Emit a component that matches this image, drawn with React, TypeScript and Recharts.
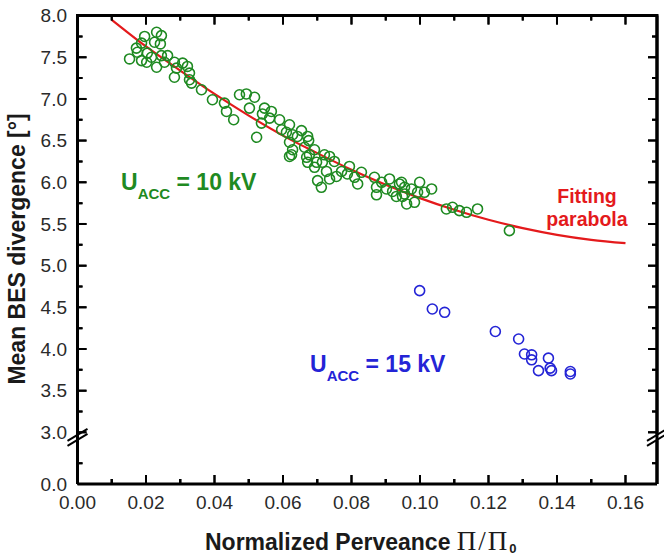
import React from 'react';
import { ComposedChart, Scatter, Line, XAxis, YAxis, ZAxis, ReferenceLine } from 'recharts';

// U_ACC = 10 kV measurements [normalized perveance, mean divergence in deg]
const acc10kV = [
  { x: 0.0152, y: 7.48 }, { x: 0.0172, y: 7.61 }, { x: 0.0187, y: 7.67 }, { x: 0.0196, y: 7.75 },
  { x: 0.0231, y: 7.8 }, { x: 0.0245, y: 7.76 }, { x: 0.0225, y: 7.68 }, { x: 0.0204, y: 7.55 },
  { x: 0.0187, y: 7.46 }, { x: 0.0202, y: 7.44 }, { x: 0.0231, y: 7.38 }, { x: 0.0245, y: 7.52 },
  { x: 0.0263, y: 7.52 }, { x: 0.0254, y: 7.44 }, { x: 0.0283, y: 7.44 }, { x: 0.0307, y: 7.43 },
  { x: 0.0321, y: 7.39 }, { x: 0.0283, y: 7.26 }, { x: 0.0327, y: 7.23 }, { x: 0.0333, y: 7.19 },
  { x: 0.0362, y: 7.11 }, { x: 0.0216, y: 7.5 }, { x: 0.0242, y: 7.66 }, { x: 0.0289, y: 7.37 },
  { x: 0.0327, y: 7.31 }, { x: 0.0175, y: 7.56 }, { x: 0.0394, y: 6.99 }, { x: 0.0429, y: 6.95 },
  { x: 0.0435, y: 6.85 }, { x: 0.0456, y: 6.75 }, { x: 0.0473, y: 7.05 }, { x: 0.0493, y: 7.06 },
  { x: 0.0517, y: 7.02 }, { x: 0.0502, y: 6.89 }, { x: 0.0523, y: 6.54 }, { x: 0.054, y: 6.82 },
  { x: 0.0537, y: 6.71 }, { x: 0.0546, y: 6.89 }, { x: 0.0566, y: 6.85 }, { x: 0.0561, y: 6.77 },
  { x: 0.059, y: 6.75 }, { x: 0.0596, y: 6.63 }, { x: 0.0619, y: 6.69 }, { x: 0.061, y: 6.6 },
  { x: 0.0619, y: 6.48 }, { x: 0.0619, y: 6.31 }, { x: 0.0628, y: 6.57 }, { x: 0.0642, y: 6.55 },
  { x: 0.0654, y: 6.62 }, { x: 0.0663, y: 6.42 }, { x: 0.0669, y: 6.3 }, { x: 0.0672, y: 6.55 },
  { x: 0.0675, y: 6.5 }, { x: 0.0625, y: 6.33 }, { x: 0.0628, y: 6.39 }, { x: 0.0677, y: 6.33 },
  { x: 0.0692, y: 6.39 }, { x: 0.0672, y: 6.24 }, { x: 0.0692, y: 6.18 }, { x: 0.0698, y: 6.24 },
  { x: 0.0701, y: 6.02 }, { x: 0.0712, y: 5.94 }, { x: 0.0715, y: 6.24 }, { x: 0.0727, y: 6.13 },
  { x: 0.0736, y: 6.31 }, { x: 0.0736, y: 6.04 }, { x: 0.0721, y: 6.33 }, { x: 0.075, y: 6.25 },
  { x: 0.0756, y: 6.07 }, { x: 0.0771, y: 6.13 }, { x: 0.0788, y: 6.1 }, { x: 0.0794, y: 6.19 },
  { x: 0.0809, y: 6.06 }, { x: 0.0818, y: 5.98 }, { x: 0.0829, y: 6.12 }, { x: 0.0867, y: 6.06 },
  { x: 0.0873, y: 5.94 }, { x: 0.0873, y: 5.85 }, { x: 0.0888, y: 6.0 }, { x: 0.0902, y: 5.92 },
  { x: 0.0911, y: 6.04 }, { x: 0.092, y: 5.89 }, { x: 0.0931, y: 5.83 }, { x: 0.0946, y: 6.0 },
  { x: 0.0955, y: 5.94 }, { x: 0.0955, y: 5.86 }, { x: 0.0961, y: 5.74 }, { x: 0.094, y: 5.98 },
  { x: 0.0949, y: 5.83 }, { x: 0.0975, y: 5.92 }, { x: 0.0993, y: 5.88 }, { x: 0.0999, y: 6.0 },
  { x: 0.1013, y: 5.88 }, { x: 0.1034, y: 5.92 }, { x: 0.0984, y: 5.76 }, { x: 0.1077, y: 5.68 },
  { x: 0.1095, y: 5.7 }, { x: 0.1115, y: 5.66 }, { x: 0.1136, y: 5.64 }, { x: 0.1168, y: 5.68 },
  { x: 0.1261, y: 5.42 },
];

// U_ACC = 15 kV measurements
const acc15kV = [
  { x: 0.0999, y: 4.7 }, { x: 0.1036, y: 4.48 }, { x: 0.1072, y: 4.44 }, { x: 0.122, y: 4.21 },
  { x: 0.1288, y: 4.12 }, { x: 0.1305, y: 3.94 }, { x: 0.1326, y: 3.93 }, { x: 0.1326, y: 3.87 },
  { x: 0.1375, y: 3.89 }, { x: 0.1346, y: 3.74 }, { x: 0.1384, y: 3.74 }, { x: 0.138, y: 3.77 },
  { x: 0.1439, y: 3.73 }, { x: 0.1439, y: 3.7 },
];

// Fitting parabola
const fittingParabola = [
  { x: 0.01, y: 7.95 }, { x: 0.02, y: 7.63 }, { x: 0.03, y: 7.34 }, { x: 0.04, y: 7.06 },
  { x: 0.05, y: 6.8 }, { x: 0.06, y: 6.56 }, { x: 0.07, y: 6.35 }, { x: 0.08, y: 6.15 },
  { x: 0.09, y: 5.97 }, { x: 0.1, y: 5.81 }, { x: 0.11, y: 5.67 }, { x: 0.12, y: 5.55 },
  { x: 0.13, y: 5.45 }, { x: 0.14, y: 5.37 }, { x: 0.15, y: 5.31 }, { x: 0.16, y: 5.27 },
];

const xMajorTicks = [0, 0.02, 0.04, 0.06, 0.08, 0.1, 0.12, 0.14, 0.16];
const xMinorTicks = [0.01, 0.03, 0.05, 0.07, 0.09, 0.11, 0.13, 0.15];
const yMajorTicks = [3.0, 3.5, 4.0, 4.5, 5.0, 5.5, 6.0, 6.5, 7.0, 7.5, 8.0];
const yMinorTicks = [3.25, 3.75, 4.25, 4.75, 5.25, 5.75, 6.25, 6.75, 7.25, 7.75];
// broken axis: the lower segment (0.0 .. 0.25) is drawn just below the 3.0 segment
const Y_ZERO = 2.38;
const Y_ZERO_MINOR = 2.63;
const Y_BREAK = 2.94;
const X_MAX = 0.1692;

const yLabelTicks = [Y_ZERO, ...yMajorTicks];
const yMinorAll = [Y_ZERO_MINOR, ...yMinorTicks];

// anchor points of the inward tick marks
const topMajorPts = xMajorTicks.map((v) => ({ x: v, y: 8 }));
const topMinorPts = xMinorTicks.map((v) => ({ x: v, y: 8 }));
const bottomMinorPts = xMinorTicks.map((v) => ({ x: v, y: Y_ZERO }));
const leftMinorPts = yMinorAll.map((v) => ({ x: 0, y: v }));
const rightMajorPts = yLabelTicks.map((v) => ({ x: X_MAX, y: v }));
const rightMinorPts = yMinorAll.map((v) => ({ x: X_MAX, y: v }));

const CHART_W = 664;
const MARGIN_RIGHT = 7;

// data units per screen pixel (plot area 579.5 x 468.4 px)
const PX_X = X_MAX / 579.5;
const PX_Y = (8 - Y_ZERO) / 468.4;

const FONT = '"Liberation Sans", Arial, Helvetica, sans-serif';
const SERIF = '"Liberation Serif", "Times New Roman", serif';
const TICK_COLOR = '#2a2a2a';
const GREEN = '#1f8a22';
const BLUE = '#2424d6';
const RED = '#e41a1c';

const tickShape = (dx: number, dy: number) => (p: any) => (
  <path d={`M${p.cx},${p.cy}l${dx},${dy}`} stroke="#000" strokeWidth={2} fill="none" />
);

type Seg = { x: number; y: number }[];
const bottomMinorSegs: Seg[] = xMinorTicks.map((v) => [{ x: v, y: Y_ZERO }, { x: v, y: Y_ZERO + 5 * PX_Y }]);
// break symbols (two parallel slashes) on the left and right frame sides
const breakSegments: Seg[] = [0, X_MAX].flatMap((x0): Seg[] => [
  [{ x: x0 - 10 * PX_X, y: Y_BREAK - 3.5 * PX_Y }, { x: x0 + 10 * PX_X, y: Y_BREAK + 8.5 * PX_Y }],
  [{ x: x0 - 10 * PX_X, y: Y_BREAK - 8.5 * PX_Y }, { x: x0 + 10 * PX_X, y: Y_BREAK + 3.5 * PX_Y }],
]);

// frame and inward ticks, placed from the axis view box handed over by the y axis
const FrameAndTicks = ({ vb }: { vb: any }) => {
  if (!vb || !isFinite(Number(vb.y)) || !isFinite(Number(vb.height)) || !isFinite(Number(vb.x)) || !isFinite(Number(vb.width))) {
    return null;
  }
  const vx = Number(vb.x);
  const vy = Number(vb.y);
  const vw = Number(vb.width);
  const vh = Number(vb.height);
  const top = vy;
  const bottom = vy + vh;
  const left = vw > 200 ? vx : vx + vw;
  const right = vw > 200 ? vx + vw : CHART_W - MARGIN_RIGHT;
  const xp = (v: number) => left + (v / X_MAX) * (right - left);
  const yp = (v: number) => top + ((8 - v) / (8 - Y_ZERO)) * (bottom - top);
  const yb = yp(Y_BREAK);
  const d: string[] = [];
  xMajorTicks.forEach((v) => {
    d.push(`M${xp(v)},${bottom}v-9`, `M${xp(v)},${top}v9`);
  });
  xMinorTicks.forEach((v) => {
    d.push(`M${xp(v)},${bottom}v-5`, `M${xp(v)},${top}v5`);
  });
  yLabelTicks.forEach((v) => {
    d.push(`M${left},${yp(v)}h9`, `M${right},${yp(v)}h-9`);
  });
  yMinorAll.forEach((v) => {
    d.push(`M${left},${yp(v)}h5`, `M${right},${yp(v)}h-5`);
  });
  const frame = `M${left - 1.5},${top}H${right + 1.5}M${right},${top}V${yb - 3}M${right},${yb + 3}V${bottom}`;
  return (
    <g>
      <path d={d.join('')} stroke="#000" strokeWidth={2} fill="none" />
      <path d={frame} stroke="#000" strokeWidth={3} fill="none" />
    </g>
  );
};

const Annotations = ({ vb }: { vb: any }) => (
  <g>
    <FrameAndTicks vb={vb} />
    <text transform="translate(25,249) rotate(-90)" textAnchor="middle" fontSize={23} fontWeight="bold" fontFamily={FONT} fill="#1a1a1a">
      Mean BES divergence [°]
    </text>
    <text x={205} y={550} fontSize={23} fontWeight="bold" fontFamily={FONT} fill="#1a1a1a">
      Normalized Perveance{' '}
      <tspan fontFamily={SERIF} fontWeight="normal" fontSize={27} letterSpacing={2}>
        Π/Π
      </tspan>
      <tspan fontSize={13} dy={3}>0</tspan>
    </text>
    <text x={121} y={190} fontSize={23} fontWeight="bold" fontFamily={FONT} fill={GREEN}>
      U<tspan fontSize={15} dy={9}>ACC</tspan>
      <tspan dy={-9}> = 10 kV</tspan>
    </text>
    <text x={310} y={372} fontSize={23} fontWeight="bold" fontFamily={FONT} fill={BLUE}>
      U<tspan fontSize={15} dy={9}>ACC</tspan>
      <tspan dy={-9}> = 15 kV</tspan>
    </text>
    <text x={587} y={203} textAnchor="middle" fontSize={19.5} fontWeight="bold" fontFamily={FONT} fill={RED}>
      Fitting
    </text>
    <text x={587} y={226} textAnchor="middle" fontSize={19.5} fontWeight="bold" fontFamily={FONT} fill={RED}>
      parabola
    </text>
  </g>
);

const tickStyle = { fontSize: 19, fill: TICK_COLOR, fontFamily: FONT };

export default function App() {
  return (
    <div style={{ position: 'absolute', left: 0, top: 0, width: 664, height: 557, background: '#fff' }}>
      <ComposedChart width={CHART_W} height={557} margin={{ top: 15.6, right: MARGIN_RIGHT, bottom: 0, left: 0 }}>
        <XAxis
          type="number"
          dataKey="x"
          domain={[0, X_MAX]}
          allowDataOverflow
          ticks={xMajorTicks}
          interval={0}
          height={73}
          tickSize={-9}
          tickMargin={21}
          tickLine={{ stroke: '#000', strokeWidth: 2 }}
          axisLine={{ stroke: '#000', strokeWidth: 3 }}
          tick={tickStyle}
          tickFormatter={(v: number) => v.toFixed(2)}
        />
        <YAxis
          type="number"
          dataKey="y"
          domain={[Y_ZERO, 8]}
          allowDataOverflow
          ticks={yLabelTicks}
          interval={0}
          width={77.5}
          tickSize={-9}
          tickMargin={19.5}
          tickLine={{ stroke: '#000', strokeWidth: 2 }}
          axisLine={{ stroke: '#000', strokeWidth: 3 }}
          tick={tickStyle}
          tickFormatter={(v: number) => (Math.abs(v - Y_ZERO) < 1e-6 ? '0.0' : v.toFixed(1))}
          label={{ content: (p: any) => <Annotations vb={p && p.viewBox} /> }}
        />
        <ZAxis range={[78, 78]} />
        <ReferenceLine y={8} stroke="#000" strokeWidth={3} />
        <ReferenceLine x={X_MAX} stroke="#000" strokeWidth={3} />
        <Scatter data={acc10kV} dataKey="y" fill="none" stroke={GREEN} strokeWidth={1.6} isAnimationActive={false} />
        <Scatter data={acc15kV} dataKey="y" fill="none" stroke={BLUE} strokeWidth={1.6} isAnimationActive={false} />
        <Line data={fittingParabola} dataKey="y" type="monotone" stroke={RED} strokeWidth={2.2} dot={false} isAnimationActive={false} />
        {bottomMinorSegs.map((s, i) => (
          <ReferenceLine key={`bm${i}`} segment={s as any} stroke="#000" strokeWidth={2} ifOverflow="visible" />
        ))}
        {breakSegments.map((s, i) => (
          <ReferenceLine key={`b${i}`} segment={s as any} stroke="#000" strokeWidth={2} ifOverflow="visible" />
        ))}
        <Scatter data={topMajorPts} dataKey="y" shape={tickShape(0, 9)} isAnimationActive={false} />
        <Scatter data={topMinorPts} dataKey="y" shape={tickShape(0, 5)} isAnimationActive={false} />
        <Scatter data={bottomMinorPts} dataKey="y" shape={tickShape(0, -5)} isAnimationActive={false} />
        <Scatter data={leftMinorPts} dataKey="y" shape={tickShape(5, 0)} isAnimationActive={false} />
        <Scatter data={rightMajorPts} dataKey="y" shape={tickShape(-9, 0)} isAnimationActive={false} />
        <Scatter data={rightMinorPts} dataKey="y" shape={tickShape(-5, 0)} isAnimationActive={false} />
      </ComposedChart>
    </div>
  );
}
